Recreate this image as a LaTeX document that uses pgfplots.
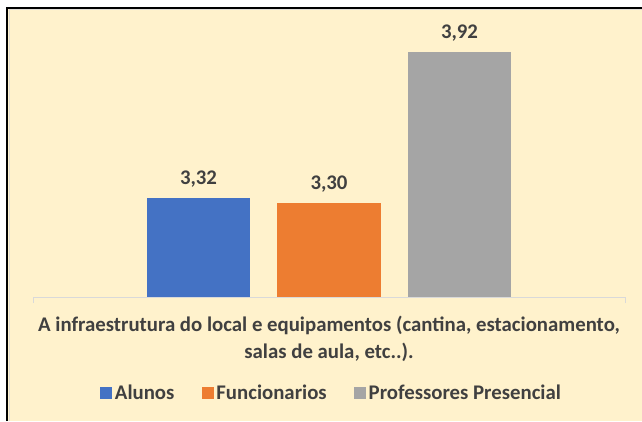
\documentclass[border=0pt]{standalone}
\usepackage{fontspec}
\setmainfont{Carlito}
\usepackage{pgfplots}
\pgfplotsset{compat=1.18}
\definecolor{bgc}{HTML}{FFF2CC}
\definecolor{cblue}{HTML}{4472C4}
\definecolor{corange}{HTML}{ED7D31}
\definecolor{cgray}{HTML}{A5A5A5}
\definecolor{txt}{HTML}{404040}
\definecolor{axgray}{HTML}{D9D9D9}
\newcommand\catlabel{A infraestrutura do local e equipamentos (cantina, estacionamento,\\salas de aula, etc..).}
\pgfplotsset{sqleg/.style={legend image code/.code={\fill[##1] (0bp,-6bp) rectangle (12bp,6bp);}}}
\begin{document}
\begin{tikzpicture}[x=1bp,y=1bp]
\useasboundingbox (0,0) rectangle (642,421);
\fill[bgc] (8,0) rectangle (642,413);
\draw[axgray!80!bgc, line width=1bp] (9.6,0) -- (9.6,411) -- (642,411);
\draw[black,line width=2.2bp] (7.1,0) -- (7.1,412.9) -- (642,412.9);
\begin{axis}[
  at={(33bp,124bp)}, anchor=south west,
  width=592bp, height=264.5bp, scale only axis,
  xmin=-1, xmax=1, ymin=2.913, ymax=4.0,
  ybar=27bp, bar width=103.5bp,
  axis y line=none,
  axis x line=bottom,
  x axis line style={-, draw=axgray, line width=1bp},
  xtick={0},
  xticklabels={\catlabel},
  major tick length=0pt,
  extra x ticks={-1,1},
  extra x tick labels={},
  extra x tick style={major tick length=6bp, tick align=outside, tick style={draw=axgray, line width=1bp}},
  xticklabel style={align=center, font=\fontsize{20.8bp}{27bp}\selectfont\bfseries, text=txt, inner sep=0pt, yshift=-19bp},
  /pgf/number format/assume math mode=true,
  nodes near coords={\pgfmathprintnumber[fixed,fixed zerofill,precision=2,use comma]{\pgfplotspointmeta}},
  every node near coord/.append style={font=\fontsize{20.8bp}{24bp}\selectfont\bfseries, text=txt, inner sep=0pt, yshift=10bp},
  legend columns=3,
  legend style={at={(0.505,-0.362)}, anchor=center, draw=none, fill=none,
    font=\fontsize{20.8bp}{24bp}\selectfont\bfseries, text=txt,
    nodes={inner sep=2.5bp},
    /tikz/every even column/.append style={column sep=25bp}},
]
\addplot[fill=cblue, draw=none, sqleg] coordinates {(0,3.32)};
\addplot[fill=corange, draw=none, sqleg] coordinates {(0,3.30)};
\addplot[fill=cgray, draw=none, sqleg] coordinates {(0,3.92)};
\legend{Alunos, Funcionarios, Professores Presencial}
\end{axis}
\end{tikzpicture}
\end{document}
